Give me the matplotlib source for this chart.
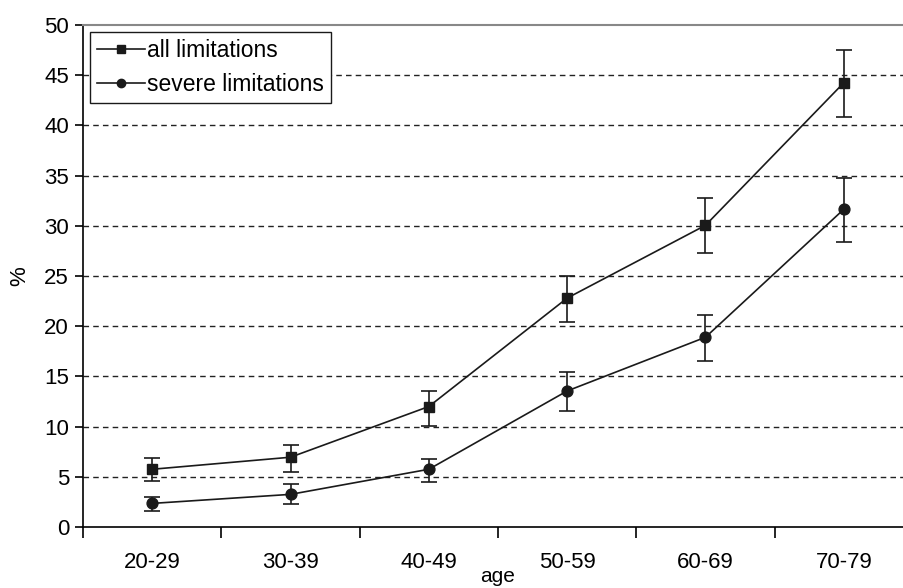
import matplotlib
matplotlib.use("Agg")
import matplotlib.pyplot as plt
from matplotlib.lines import Line2D

plt.rcParams['font.family'] = ['Liberation Sans', 'DejaVu Sans']

# data
ages = ["20-29", "30-39", "40-49", "50-59", "60-69", "70-79"]
all_lim = [5.75, 6.95, 12.0, 22.8, 30.05, 44.25]
all_hi = [6.9, 8.15, 13.5, 25.0, 32.8, 47.5]
all_lo = [4.6, 5.5, 10.1, 20.45, 27.3, 40.8]
sev_lim = [2.35, 3.25, 5.75, 13.55, 18.9, 31.65]
sev_hi = [3.0, 4.25, 6.75, 15.4, 21.1, 34.75]
sev_lo = [1.6, 2.3, 4.5, 11.55, 16.5, 28.4]

fig = plt.figure(figsize=(9.04, 5.88), dpi=100)
ax = fig.add_axes([83/904, 61/588, 830/904, 502/588])

x = list(range(len(ages)))
col = '#1a1a1a'

def draw(vals, hi, lo, marker):
    yerr = [[v - l for v, l in zip(vals, lo)], [h - v for v, h in zip(vals, hi)]]
    ax.errorbar(x, vals, yerr=yerr, color=col, marker=marker, markersize=7.8,
                lw=1.2, elinewidth=1.2, capsize=6, capthick=1.2)

draw(all_lim, all_hi, all_lo, 's')
draw(sev_lim, sev_hi, sev_lo, 'o')

ax.set_xlim(-0.5, 5.5)
ax.set_ylim(0, 50)
ax.set_yticks(range(0, 51, 5))
ax.set_xticks(x)
ax.set_xticklabels(ages)
ax.set_xticks([i - 0.5 for i in range(len(ages))], minor=True)
ax.tick_params(axis='x', which='major', length=0, pad=18, labelsize=16)
ax.tick_params(axis='x', which='minor', length=8, width=1.2, direction='out')
ax.tick_params(axis='y', length=6, width=1.2, direction='out', labelsize=16, pad=4)

for yv in range(5, 50, 5):
    ax.axhline(yv, color='#222222', lw=1, ls=(0, (4, 3)), zorder=0)

ax.spines['right'].set_visible(False)
ax.spines['top'].set_color('#888888')
ax.spines['top'].set_linewidth(1.5)
ax.spines['left'].set_linewidth(1.2)
ax.spines['bottom'].set_linewidth(1.2)

ax.set_xlabel('age', fontsize=15, labelpad=-4)
ax.set_ylabel('%', fontsize=16, labelpad=10)

handles = [Line2D([], [], color=col, lw=1.2, marker='s', markersize=6),
           Line2D([], [], color=col, lw=1.2, marker='o', markersize=6)]
leg = ax.legend(handles, ['all limitations', 'severe limitations'],
                loc='upper left', bbox_to_anchor=(0.008, 0.986), fontsize=16.5,
                frameon=True, fancybox=False, framealpha=1, edgecolor=col,
                handlelength=2.1, handletextpad=0.12, borderpad=0.3,
                labelspacing=0.5, borderaxespad=0)
leg.get_frame().set_linewidth(1.0)

fig.savefig('out.png', dpi=100)
